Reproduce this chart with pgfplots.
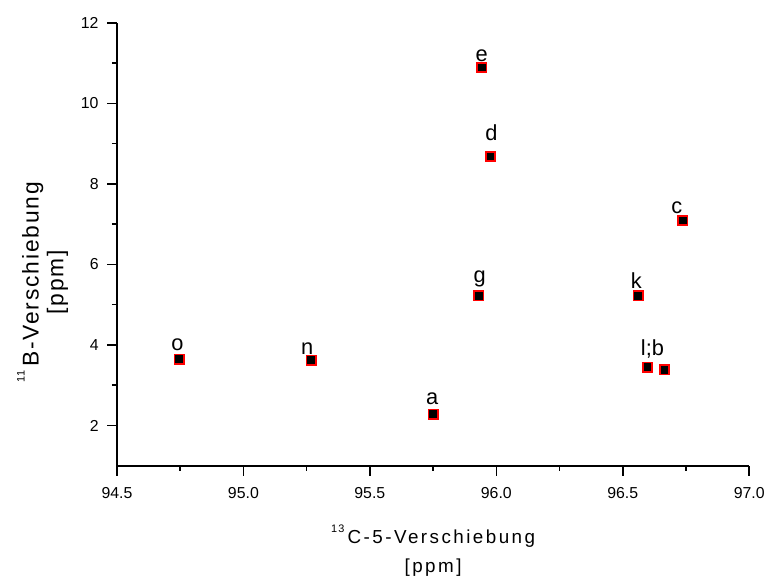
\documentclass[border=0pt]{standalone}
\usepackage{fontspec}
\setmainfont{Liberation Sans}
\usepackage{pgfplots}
\pgfplotsset{compat=1.18}
\usepackage{pgfplotstable}
\usetikzlibrary{calc}

% dx, dy: label offset from the point, in pt
\pgfplotstableread{
x       y      label  dx  dy
95.942  10.89  e      0   5
95.977  8.68   d      1   15
96.737  7.09   c      -6  6
95.930  5.22   g      1   8
96.561  5.22   k      -2  7
94.747  3.65   o      -2  8
95.268  3.62   n      -4  5
95.750  2.28   a      -1  9
}\labelled

% l and b share one label (a semicolon breaks point meta, so it is set as a node)
\pgfplotstableread{
x       y
96.598  3.45
96.665  3.38
}\lb

\newcommand{\isotope}[1]{\raisebox{1.15ex}{\fontsize{11}{11}\selectfont #1}\,}

\begin{document}
\begin{tikzpicture}
\begin{axis}[
    scale only axis,
    width=638pt,
    height=447pt,
    xmin=94.5, xmax=97.0,
    ymin=1, ymax=12,
    axis x line*=bottom,
    axis y line*=left,
    axis line style={line width=1.5pt},
    xtick={94.5,95.0,...,97.0},
    ytick={2,4,...,12},
    minor x tick num=1,
    minor y tick num=1,
    tick align=outside,
    major tick length=10pt,
    minor tick length=5pt,
    every tick/.style={black, line width=1.5pt},
    tick label style={font=\fontsize{16}{18}\selectfont},
    /pgf/number format/assume math mode=true,
    xticklabel style={yshift=-8pt, /pgf/number format/.cd, fixed, fixed zerofill, precision=1},
    yticklabel style={xshift=-5pt, /pgf/number format/.cd, fixed, precision=0},
    xlabel={\isotope{13}C-5-Verschiebung\\{}[ppm]},
    xlabel style={at={(axis description cs:0.5,-0.132)}, anchor=north,
        align=center, inner sep=0pt,
        font=\fontsize{19}{29}\selectfont\addfontfeature{LetterSpace=13}},
    ylabel={\isotope{11}B-Verschiebung\\{}[ppm]},
    ylabel style={at={(axis description cs:-0.077,0.414)}, anchor=south,
        align=center, inner sep=0pt,
        font=\fontsize{23}{25}\selectfont\addfontfeature{LetterSpace=8}},
    clip=false,
]
\coordinate (ll) at (rel axis cs:0,0);
\addplot[only marks, mark=square*, mark size=4.75pt,
    mark options={draw=red, fill=black, line width=1.6pt},
    visualization depends on={\thisrow{dx}\as\labdx},
    visualization depends on={\thisrow{dy}\as\labdy},
    nodes near coords, point meta=explicit symbolic,
    every node near coord/.style={anchor=south, inner sep=0pt,
        xshift=\labdx pt, yshift=\labdy pt,
        font=\fontsize{22}{24}\selectfont, text=black}]
    table[meta=label] {\labelled};
\addplot[only marks, mark=square*, mark size=4.75pt,
    mark options={draw=red, fill=black, line width=1.6pt}]
    table {\lb};
\node[anchor=south, inner sep=0pt, xshift=5pt, yshift=9pt,
    font=\fontsize{22}{24}\selectfont]
    at (axis cs:96.598,3.45) {l;b};
\end{axis}
\pgfresetboundingbox
\useasboundingbox ($(ll)+(-118pt,-116pt)$) rectangle ($(ll)+(662pt,470pt)$);
\end{tikzpicture}
\end{document}
